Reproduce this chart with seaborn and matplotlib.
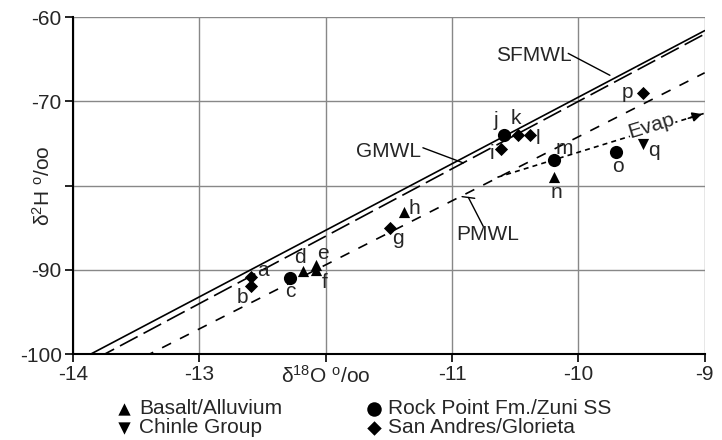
import seaborn as sns
import matplotlib.pyplot as plt
import matplotlib.transforms as mtransforms
import pandas as pd
import numpy as np

# sample points
labels = list("abcdefghijklmnopq")
d18o = [-12.59, -12.59, -12.28, -12.18, -12.08, -12.08, -11.49, -11.38, -10.61,
        -10.59, -10.48, -10.38, -10.19, -10.19, -9.70, -9.49, -9.49]
d2h = [-90.8, -91.9, -90.9, -90.1, -89.4, -90.0, -85.0, -83.1, -75.7,
       -74.0, -74.0, -74.0, -77.0, -79.0, -76.0, -69.0, -75.0]
groups = ["San Andres/Glorieta", "San Andres/Glorieta", "Rock Point Fm./Zuni SS",
          "Basalt/Alluvium", "Basalt/Alluvium", "Basalt/Alluvium", "San Andres/Glorieta",
          "Basalt/Alluvium", "San Andres/Glorieta", "Rock Point Fm./Zuni SS",
          "San Andres/Glorieta", "San Andres/Glorieta", "Rock Point Fm./Zuni SS",
          "Basalt/Alluvium", "Rock Point Fm./Zuni SS", "San Andres/Glorieta", "Chinle Group"]
group_order = ["Basalt/Alluvium", "Chinle Group", "Rock Point Fm./Zuni SS", "San Andres/Glorieta"]

# meteoric water lines (end points)
line_x = [-14.0, -9.0]
sfmwl_y = [-101.1, -61.6]
gmwl_y = [-102.0, -62.0]
pmwl_y = [-104.6, -66.6]
evap_x = [-10.64, -9.0]
evap_y = [-79.0, -71.4]

# label offsets in pixels (dx, dy) from each point
label_off = [(12, 6), (-9, -12), (0, -14), (-3, 13), (7, 11), (9, -13), (8, -11), (10, 3),
             (-9, -4), (-8, 15), (-2, 17), (8, -3), (10, 12), (2, -15), (2, -15), (-15, 0), (11, -7)]

df = pd.DataFrame({"label": labels, "d18O": d18o, "d2H": d2h, "group": groups})

sns.set_style("white")
plt.rcParams['font.family'] = ['Liberation Sans', 'DejaVu Sans']
plt.rcParams['mathtext.fontset'] = 'custom'
plt.rcParams['mathtext.rm'] = 'Liberation Sans'
plt.rcParams['mathtext.it'] = 'Liberation Sans:italic'

FS = 15

fig = plt.figure(figsize=(7.22, 4.4), dpi=100)
ax = fig.add_axes([0.101, 0.195, 0.875, 0.766])

ax.plot(line_x, sfmwl_y, color="black", lw=1.2)
ax.plot(line_x, gmwl_y, color="black", lw=1.2, linestyle=(0, (12, 4)))
ax.plot(line_x, pmwl_y, color="black", lw=1.2, linestyle=(0, (6, 6)))
ax.plot(evap_x, evap_y, color="black", lw=1.2, linestyle=(0, (3, 2.5)))
ax.annotate("", xy=(evap_x[1], evap_y[1]), xytext=(evap_x[1] - 0.15, evap_y[1] - 0.7),
            arrowprops=dict(arrowstyle="-|>", color="black", lw=1.2, mutation_scale=14))

markers = {"Basalt/Alluvium": "^", "Chinle Group": "v",
           "Rock Point Fm./Zuni SS": "o", "San Andres/Glorieta": "D"}
sizes_map = {"Basalt/Alluvium": 65, "Chinle Group": 65,
             "Rock Point Fm./Zuni SS": 90, "San Andres/Glorieta": 45}
for g in group_order:
    sub = df[df["group"] == g]
    sns.scatterplot(data=sub, x="d18O", y="d2H", marker=markers[g], s=sizes_map[g],
                    color="black", edgecolor="black", linewidth=0, ax=ax, label=g, zorder=5)

for lab, x, y, (dx, dy) in zip(labels, d18o, d2h, label_off):
    ax.annotate(lab, (x, y), xytext=(dx, dy), textcoords="offset pixels",
                ha="center", va="center", fontsize=FS)

# line labels with leaders
ax.text(-10.35, -64.5, "SFMWL", ha="center", va="center", fontsize=FS)
ax.plot([-10.08, -9.75], [-64.3, -66.9], color="black", lw=1)
ax.text(-11.5, -76.0, "GMWL", ha="center", va="center", fontsize=FS)
ax.plot([-11.23, -10.91], [-75.5, -77.3], color="black", lw=1)
ax.text(-10.72, -85.8, "PMWL", ha="center", va="center", fontsize=FS)
ax.plot([-10.87, -10.75], [-81.4, -84.9], color="black", lw=1)
ax.plot([-10.92, -10.82], [-81.3, -81.5], color="black", lw=1)
ax.text(-9.42, -72.9, "Evap", ha="center", va="center", fontsize=FS, rotation=17,
        bbox=dict(facecolor="white", edgecolor="none", pad=0))

ax.set_xlim(-14, -9)
ax.set_ylim(-100, -60)
ax.set_xticks([-14, -13, -12, -11, -10, -9])
ax.set_xticklabels(["-14", "-13", r"δ$^{18}$O $^{\rm o}$/oo", "-11", "-10", "-9"], fontsize=FS)
ax.set_yticks([-100, -90, -80, -70, -60])
ax.set_yticklabels(["-100", "-90", "", "-70", "-60"], fontsize=FS)
ax.set_xlabel("")
ax.set_ylabel("")
trans = mtransforms.blended_transform_factory(ax.transAxes, ax.transData)
ax.text(-0.047, -80, r"δ$^{2}$H $^{\rm o}$/oo", transform=trans, rotation=90,
        ha="center", va="center", fontsize=FS)

ax.grid(True, color="#888888", lw=1)
ax.tick_params(axis="both", direction="out", length=6, width=1.2, color="black", pad=2)
ax.tick_params(axis="x", bottom=True)
ax.tick_params(axis="y", left=True)
for side in ["top", "right"]:
    ax.spines[side].set_visible(False)
for side in ["left", "bottom"]:
    ax.spines[side].set_color("black")
    ax.spines[side].set_linewidth(1.5)

handles, labs = ax.get_legend_handles_labels()
ax.legend_.remove()
fig.legend(handles, labs, loc="upper left", bbox_to_anchor=(0.158, 0.093), ncol=2,
           frameon=False, fontsize=FS, handletextpad=0.2, columnspacing=3.9,
           labelspacing=0.0, handlelength=1, markerscale=1.1, borderpad=0, borderaxespad=0)

fig.savefig("out.png", dpi=100)
